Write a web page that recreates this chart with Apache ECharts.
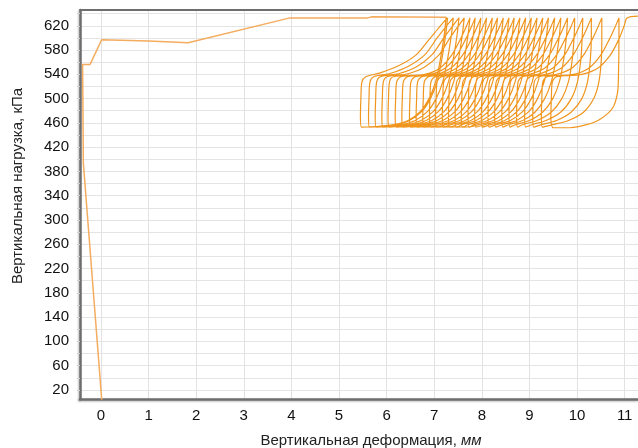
<!DOCTYPE html>
<html>
<head>
<meta charset="utf-8">
<script src="https://cdn.jsdelivr.net/npm/echarts@6/dist/echarts.min.js"></script>
<style>
  html, body { margin: 0; padding: 0; background: #fff; }
  #chart { width: 638px; height: 448px; }
</style>
</head>
<body>
<div id="chart"></div>
<script>
// Axis ranges and tick labels
const xRange = [-0.44, 11.28];
const yRange = [5, 646];
const xTickLabels = [0, 1, 2, 3, 4, 5, 6, 7, 8, 9, 10, 11];
const yTickLabels = [20, 60, 100, 140, 180, 220, 260, 300, 340, 380, 420, 460, 500, 540, 580, 620];

// Initial loading path: deformation (mm), load (kPa)
const initialLoading = [
  [0.02, 0], [-0.37, 394], [-0.385, 556], [-0.23, 556], [0.015, 597], [1.0, 595],
  [1.83, 592], [3.97, 633], [5.6, 633], [5.7, 635], [7.25, 634]
];

// Load cycles: unloading from the previous peak, then reloading to the next peak
const cycle01 = [[7.21,605],[7.13,565],[7.03,528],[6.89,500],[6.70,478],[6.45,464],[6.15,457],[5.75,454],[5.47,453],
  [5.45,470],[5.46,500],[5.48,527],[5.56,536],[5.85,542],[6.25,554],[6.62,572],[6.92,600],[7.13,620],[7.28,633]];
const cycle02 = [[7.24,605],[7.16,565],[7.06,528],[6.92,500],[6.73,478],[6.48,464],[6.18,457],[5.85,454],[5.64,453],
  [5.62,470],[5.63,500],[5.65,527],[5.73,536],[6.05,541],[6.45,553],[6.80,572],[7.06,600],[7.26,620],[7.40,633]];
const cycle03 = [[7.36,605],[7.28,565],[7.18,528],[7.04,500],[6.85,478],[6.60,464],[6.30,457],[5.98,454],[5.78,453],
  [5.76,470],[5.77,500],[5.79,527],[5.87,536],[6.25,541],[6.62,552],[6.95,572],[7.20,600],[7.39,620],[7.52,633]];
const cycle04 = [[7.48,605],[7.40,565],[7.30,528],[7.16,500],[6.97,478],[6.72,464],[6.42,457],[6.10,454],[5.92,453],
  [5.90,470],[5.91,500],[5.93,527],[6.01,536],[6.45,541],[6.80,552],[7.10,572],[7.33,600],[7.51,620],[7.63,633]];
const cycle05 = [[7.59,605],[7.51,565],[7.41,528],[7.27,500],[7.08,478],[6.83,464],[6.53,457],[6.22,454],[6.05,453],
  [6.03,470],[6.04,500],[6.06,527],[6.14,536],[6.80,540],[7.13,551],[7.37,572],[7.55,598],[7.68,620],[7.75,633]];
const cycle06 = [[7.71,605],[7.63,565],[7.53,528],[7.39,500],[7.20,478],[6.95,464],[6.65,457],[6.38,454],[6.20,453],
  [6.18,470],[6.19,500],[6.21,527],[6.30,536],[6.91,540],[7.24,551],[7.48,572],[7.66,598],[7.79,620],[7.86,633]];
const cycle07 = [[7.82,605],[7.74,565],[7.64,528],[7.50,500],[7.31,478],[7.06,464],[6.76,457],[6.52,454],[6.34,453],
  [6.32,470],[6.33,500],[6.35,527],[6.44,536],[7.03,540],[7.36,551],[7.60,572],[7.78,598],[7.91,620],[7.98,633]];
const cycle08 = [[7.94,605],[7.86,565],[7.76,528],[7.62,500],[7.43,478],[7.18,464],[6.88,457],[6.68,454],[6.50,453],
  [6.48,470],[6.49,500],[6.51,527],[6.60,536],[7.15,540],[7.48,551],[7.72,572],[7.90,598],[8.03,620],[8.10,633]];
const cycle09 = [[8.06,605],[7.98,565],[7.88,528],[7.74,500],[7.55,478],[7.30,464],[7.00,457],[6.82,454],[6.64,453],
  [6.62,470],[6.63,500],[6.65,527],[6.74,536],[7.27,540],[7.60,551],[7.84,572],[8.02,598],[8.15,620],[8.22,633]];
const cycle10 = [[8.18,605],[8.10,565],[8.00,528],[7.86,500],[7.67,478],[7.42,464],[7.12,457],[6.96,454],[6.78,453],
  [6.76,470],[6.77,500],[6.79,527],[6.88,536],[7.38,540],[7.71,551],[7.95,572],[8.13,598],[8.26,620],[8.33,633]];
const cycle11 = [[8.29,605],[8.21,565],[8.11,528],[7.97,500],[7.78,478],[7.53,464],[7.23,457],[7.10,454],[6.92,453],
  [6.90,470],[6.91,500],[6.93,527],[7.02,536],[7.50,540],[7.83,551],[8.07,572],[8.25,598],[8.38,620],[8.45,633]];
const cycle12 = [[8.41,605],[8.33,565],[8.23,528],[8.09,500],[7.90,478],[7.65,464],[7.35,457],[7.23,454],[7.05,453],
  [7.03,470],[7.04,500],[7.06,527],[7.15,536],[7.62,540],[7.95,551],[8.19,572],[8.37,598],[8.50,620],[8.57,633]];
const cycle13 = [[8.53,605],[8.45,565],[8.35,528],[8.21,500],[8.02,478],[7.77,464],[7.47,457],[7.37,454],[7.19,453],
  [7.17,470],[7.18,500],[7.20,527],[7.29,536],[7.73,540],[8.06,551],[8.30,572],[8.48,598],[8.61,620],[8.68,633]];
const cycle14 = [[8.64,605],[8.56,565],[8.46,528],[8.32,500],[8.13,478],[7.88,464],[7.58,457],[7.50,454],[7.32,453],
  [7.30,470],[7.31,500],[7.33,527],[7.42,536],[7.85,540],[8.18,551],[8.42,572],[8.60,598],[8.73,620],[8.80,633]];
const cycle15 = [[8.76,605],[8.68,565],[8.58,528],[8.44,500],[8.25,478],[8.00,464],[7.70,457],[7.64,454],[7.46,453],
  [7.44,470],[7.45,500],[7.47,527],[7.56,536],[7.97,540],[8.30,551],[8.54,572],[8.72,598],[8.85,620],[8.92,633]];
const cycle16 = [[8.88,605],[8.80,565],[8.70,528],[8.56,500],[8.37,478],[8.12,464],[7.82,457],[7.77,454],[7.59,453],
  [7.57,470],[7.58,500],[7.60,527],[7.69,536],[8.09,540],[8.42,551],[8.66,572],[8.84,598],[8.97,620],[9.04,633]];
const cycle17 = [[9.00,605],[8.92,565],[8.82,528],[8.68,500],[8.49,478],[8.24,464],[7.94,457],[7.73,453],
  [7.71,470],[7.72,500],[7.74,527],[7.83,536],[8.21,540],[8.54,551],[8.78,572],[8.96,598],[9.09,620],[9.16,633]];
const cycle18 = [[9.12,605],[9.04,565],[8.94,528],[8.80,500],[8.61,478],[8.36,464],[8.06,457],[7.87,453],
  [7.85,470],[7.86,500],[7.88,527],[7.97,536],[8.33,540],[8.66,551],[8.90,572],[9.08,598],[9.21,620],[9.28,633]];
const cycle19 = [[9.24,605],[9.16,565],[9.06,528],[8.92,500],[8.73,478],[8.48,464],[8.18,457],[8.01,453],
  [7.99,470],[8.00,500],[8.02,527],[8.11,536],[8.45,540],[8.78,551],[9.02,572],[9.20,598],[9.33,620],[9.40,633]];
const cycle20 = [[9.36,605],[9.28,565],[9.18,528],[9.04,500],[8.85,478],[8.60,464],[8.30,457],[8.15,453],
  [8.13,470],[8.14,500],[8.16,527],[8.25,536],[8.58,540],[8.91,551],[9.15,572],[9.33,598],[9.46,620],[9.53,633]];
const cycle21 = [[9.49,605],[9.41,565],[9.31,528],[9.17,500],[8.98,478],[8.73,464],[8.43,457],[8.29,453],
  [8.27,470],[8.28,500],[8.30,527],[8.39,536],[8.71,540],[9.04,551],[9.28,572],[9.46,598],[9.59,620],[9.66,633]];
const cycle22 = [[9.63,605],[9.56,565],[9.46,528],[9.32,500],[9.12,478],[8.86,464],[8.56,457],[8.44,453],
  [8.42,470],[8.43,500],[8.45,527],[8.54,536],[8.85,540],[9.18,551],[9.42,572],[9.60,598],[9.73,620],[9.80,633]];
const cycle23 = [[9.78,605],[9.72,565],[9.63,528],[9.49,500],[9.28,478],[9.00,464],[8.70,457],[8.59,453],
  [8.57,470],[8.58,500],[8.60,527],[8.69,536],[9.00,540],[9.33,551],[9.57,572],[9.75,598],[9.88,620],[9.95,633]];
const cycle24 = [[9.94,605],[9.90,565],[9.82,528],[9.68,500],[9.46,478],[9.16,464],[8.85,457],[8.75,453],
  [8.73,470],[8.74,500],[8.76,527],[8.85,536],[9.17,540],[9.50,551],[9.74,572],[9.92,598],[10.05,620],[10.12,633]];
const cycle25 = [[10.11,605],[10.08,565],[10.01,528],[9.88,500],[9.66,478],[9.35,464],[9.05,457],[8.92,453],
  [8.90,470],[8.91,500],[8.93,527],[9.02,536],[9.35,540],[9.68,551],[9.92,572],[10.10,598],[10.23,620],[10.30,633]];
const cycle26 = [[10.30,605],[10.28,565],[10.22,528],[10.10,500],[9.88,478],[9.57,464],[9.25,457],[9.09,453],
  [9.07,470],[9.08,500],[9.10,527],[9.19,536],[9.57,540],[9.90,551],[10.14,572],[10.32,598],[10.45,620],[10.52,633]];
const cycle27 = [[10.52,605],[10.51,565],[10.46,528],[10.35,500],[10.14,478],[9.82,464],[9.48,457],[9.27,453],
  [9.25,470],[9.26,500],[9.28,527],[9.37,536],[9.93,540],[10.26,551],[10.50,572],[10.68,598],[10.81,620],[10.88,633]];
const cycle28 = [[10.88,600],[10.87,540],[10.85,510],[10.75,485],[10.50,467],[10.20,457],[9.85,452],[9.50,452],
  [9.45,470],[9.46,500],[9.48,527],[9.57,536],[10.10,540],[10.45,551],[10.70,572],[10.88,598],[10.99,620],[11.05,633],[11.30,636]];

const cycles = [cycle01, cycle02, cycle03, cycle04, cycle05, cycle06, cycle07, cycle08, cycle09, cycle10,
  cycle11, cycle12, cycle13, cycle14, cycle15, cycle16, cycle17, cycle18, cycle19, cycle20,
  cycle21, cycle22, cycle23, cycle24, cycle25, cycle26, cycle27, cycle28];

const cyclicPath = [[7.25, 634]].concat(...cycles);

const FONT = "'Liberation Sans', Arial, sans-serif";
const axisLineStyle = { color: '#6e6e6e', width: 2.5, shadowColor: 'rgba(0,0,0,0.25)', shadowBlur: 2, shadowOffsetX: -1, shadowOffsetY: 1 };

const chart = echarts.init(document.getElementById('chart'), null, { renderer: 'canvas' });

chart.setOption({
  backgroundColor: '#ffffff',
  animation: false,
  grid: { left: 80, right: 0, top: 10, bottom: 49 },
  xAxis: [{
    type: 'value',
    min: xRange[0], max: xRange[1],
    minInterval: 1, maxInterval: 1,
    axisLine: { show: true, onZero: false, lineStyle: axisLineStyle },
    axisTick: { show: false },
    axisLabel: {
      margin: 9, color: '#111', fontFamily: FONT, fontSize: 15,
      showMinLabel: false, showMaxLabel: false,
      formatter: v => xTickLabels.indexOf(v) >= 0 ? String(v) : ''
    },
    splitLine: { show: true, lineStyle: { color: '#e2e2e2', width: 1 } }
  }, {
    type: 'value', position: 'top',
    min: xRange[0], max: xRange[1],
    axisLine: { show: true, onZero: false, lineStyle: { color: '#6e6e6e', width: 2 } },
    axisTick: { show: false }, axisLabel: { show: false }, splitLine: { show: false }
  }],
  yAxis: {
    type: 'value',
    min: yRange[0], max: yRange[1],
    minInterval: 20, maxInterval: 20,
    axisLine: { show: true, onZero: false, lineStyle: axisLineStyle },
    axisTick: { show: true, length: 3, lineStyle: { color: '#d0d0d0' } },
    axisLabel: {
      margin: 11, color: '#111', fontFamily: FONT, fontSize: 15,
      showMinLabel: false, showMaxLabel: false,
      formatter: v => yTickLabels.indexOf(v) >= 0 ? String(v) : ''
    },
    splitLine: { show: true, lineStyle: { color: '#e4e4e4', width: 1 } }
  },
  graphic: [{
    type: 'text',
    x: 371, y: 441,
    style: {
      text: '{a|Вертикальная деформация, }{b|мм}',
      align: 'center', verticalAlign: 'middle',
      rich: {
        a: { fontFamily: FONT, fontSize: 15, fill: '#222' },
        b: { fontFamily: FONT, fontSize: 15, fontStyle: 'italic', fill: '#222' }
      }
    }
  }, {
    type: 'text',
    x: 18, y: 186, rotation: Math.PI / 2,
    style: {
      text: 'Вертикальная нагрузка, кПа',
      align: 'center', verticalAlign: 'middle',
      fontFamily: FONT, fontSize: 15, fill: '#222'
    }
  }],
  series: [{
    type: 'line',
    data: initialLoading,
    showSymbol: false, symbol: 'none',
    lineStyle: { color: '#f4ac5e', width: 1.5 },
    z: 3
  }, {
    type: 'line',
    data: cyclicPath,
    smooth: 0.3,
    showSymbol: false, symbol: 'none',
    lineStyle: { color: '#f0961f', width: 1.2 },
    z: 3
  }]
});
</script>
</body>
</html>
